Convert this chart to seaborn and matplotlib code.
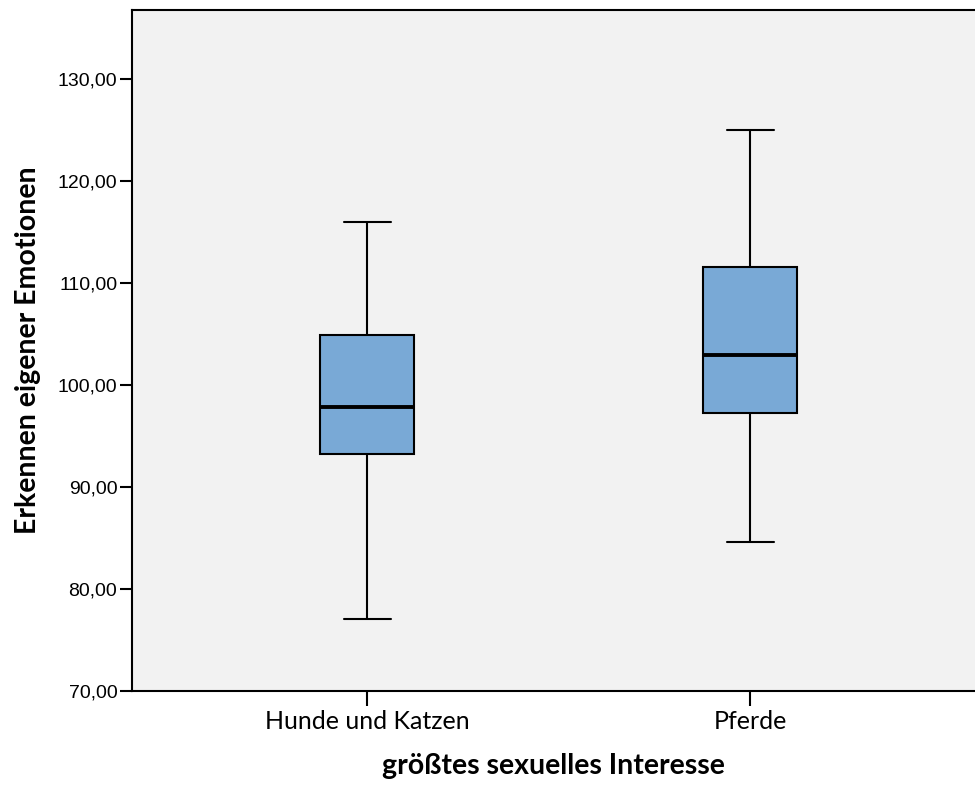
import matplotlib
matplotlib.use("Agg")
import matplotlib.pyplot as plt
import matplotlib.ticker as mticker
import seaborn as sns
import pandas as pd

# five-number summaries (min, Q1, median, Q3, max)
groups = ["Hunde und Katzen", "Pferde"]
hunde_katzen = [77.1, 93.2, 97.9, 104.9, 116.0]
pferde = [84.6, 97.3, 103.0, 111.6, 125.0]
yticks = [70, 80, 90, 100, 110, 120, 130]

df = pd.DataFrame({
    "gruppe": [groups[0]] * len(hunde_katzen) + [groups[1]] * len(pferde),
    "wert": hunde_katzen + pferde,
})

sns.set_style("white")
fig = plt.figure(figsize=(9.75, 7.87), dpi=100)
ax = fig.add_axes([132 / 975, 1 - 691 / 787, 1 - 132 / 975, (691 - 10) / 787])
ax.set_facecolor("#F2F2F2")

sns.boxplot(data=df, x="gruppe", y="wert", order=groups, ax=ax,
            color="#79A9D6", saturation=1, width=0.245, whis=(0, 100),
            linewidth=1.5, linecolor="black",
            medianprops=dict(color="black", linewidth=2.8),
            boxprops=dict(edgecolor="black"))

ax.set_xlim(-0.614, 1.587)
ax.set_ylim(70, 136.8)
ax.set_yticks(yticks)
ax.yaxis.set_major_formatter(mticker.FuncFormatter(lambda v, p: f"{v:.2f}".replace(".", ",")))

for s in ["left", "bottom", "top"]:
    ax.spines[s].set_visible(True)
    ax.spines[s].set_color("black")
    ax.spines[s].set_linewidth(1.5)
ax.spines["right"].set_visible(False)

ax.tick_params(axis="y", direction="out", length=8.6, width=1.5, left=True,
               labelsize=14, pad=2, colors="black")
ax.tick_params(axis="x", direction="out", length=10.8, width=1.5, bottom=True,
               labelsize=18, pad=3, colors="black")
for lab in ax.get_yticklabels():
    lab.set_family("Liberation Sans")
for lab in ax.get_xticklabels():
    lab.set_family("Lato")

ax.set_xlabel("größtes sexuelles Interesse", family="Lato", fontweight="bold",
              fontsize=20.5, labelpad=14, color="black")
ax.set_ylabel("Erkennen eigener Emotionen", family="Lato", fontweight="bold",
              fontsize=20.5, labelpad=12, color="black")

fig.savefig("out.png", dpi=100)
